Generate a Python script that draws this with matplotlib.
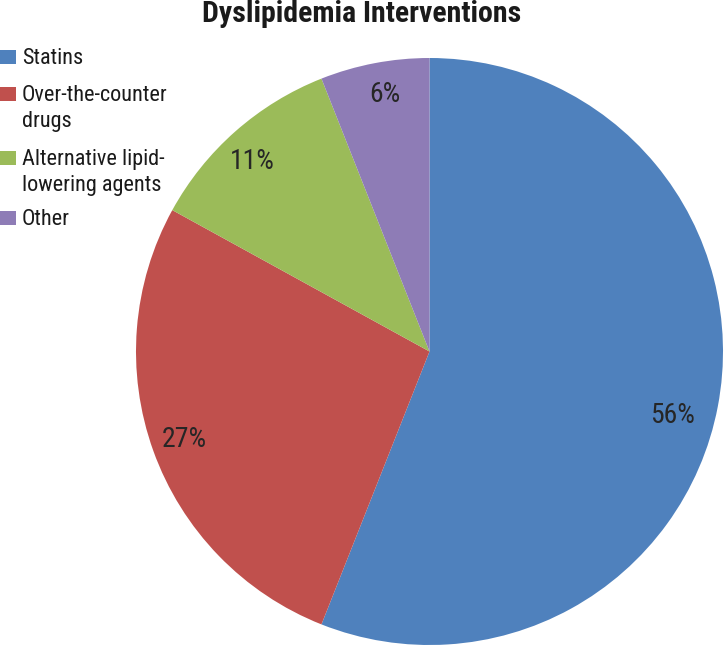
import matplotlib
matplotlib.use("Agg")
import matplotlib.pyplot as plt
from matplotlib import font_manager
from matplotlib.patches import Rectangle
import numpy as np

# ---- data ----
categories = ["Statins", "Over-the-counter\ndrugs", "Alternative lipid-\nlowering agents", "Other"]
values = [56, 27, 11, 6]
pct_labels = ["56%", "27%", "11%", "6%"]
colors = ["#4F81BD", "#C0504D", "#9BBB59", "#8E7CB6"]
title = "Dyslipidemia Interventions"

# ---- font selection (condensed if available) ----
names = {f.name for f in font_manager.fontManager.ttflist}
family = "DejaVu Sans"
stretch = "normal"
for cand in ["Roboto Condensed", "Liberation Sans Narrow", "Open Sans Condensed", "Arial Narrow"]:
    if cand in names:
        family = cand
        break
else:
    if any(f.name == "DejaVu Sans" and f.stretch == "condensed" for f in font_manager.fontManager.ttflist):
        stretch = "condensed"
fkw = dict(family=family, stretch=stretch)

W, H = 724, 647
fig = plt.figure(figsize=(W / 100, H / 100), dpi=100)

# pie axes: pie spans x 136..723, y 58..645 (pixels)
ax = fig.add_axes([136 / W, (H - 645) / H, 587 / W, 587 / H])
wedges, _ = ax.pie(values, colors=colors, startangle=90, counterclock=False,
                   radius=1.0, wedgeprops=dict(linewidth=0))
ax.set_xlim(-1, 1)
ax.set_ylim(-1, 1)
ax.set_aspect("equal")
ax.axis("off")

# percentage labels (radius fraction, angular offset from wedge middle)
label_r = [0.858, 0.889, 0.885, 0.89]
label_dang = [-4.0, 0.0, 1.6, -1.0]
for w, lab, rr, da in zip(wedges, pct_labels, label_r, label_dang):
    mid = np.deg2rad((w.theta1 + w.theta2) / 2 + da)
    ax.text(rr * np.cos(mid), rr * np.sin(mid), lab, ha="center", va="center",
            fontsize=20, color="#262626", **fkw)

# title
fig.text(0.5, 1 - 14 / H, title, ha="center", va="center", fontsize=21.5,
         fontweight="bold", color="#1a1a1a", **fkw)

# legend (manual, handles aligned with first line of each label)
first_line_y = [57, 94, 158, 218]
for cat, col, yy in zip(categories, colors, first_line_y):
    fig.patches.append(Rectangle((0 / W, 1 - (yy + 7) / H), 16 / W, 14 / H,
                                 transform=fig.transFigure, facecolor=col,
                                 edgecolor="none"))
    fig.text(22 / W, 1 - (yy - 9) / H, cat, ha="left", va="top", fontsize=16,
             color="#1a1a1a", linespacing=1.3, **fkw)

fig.savefig("out.png", dpi=100)
